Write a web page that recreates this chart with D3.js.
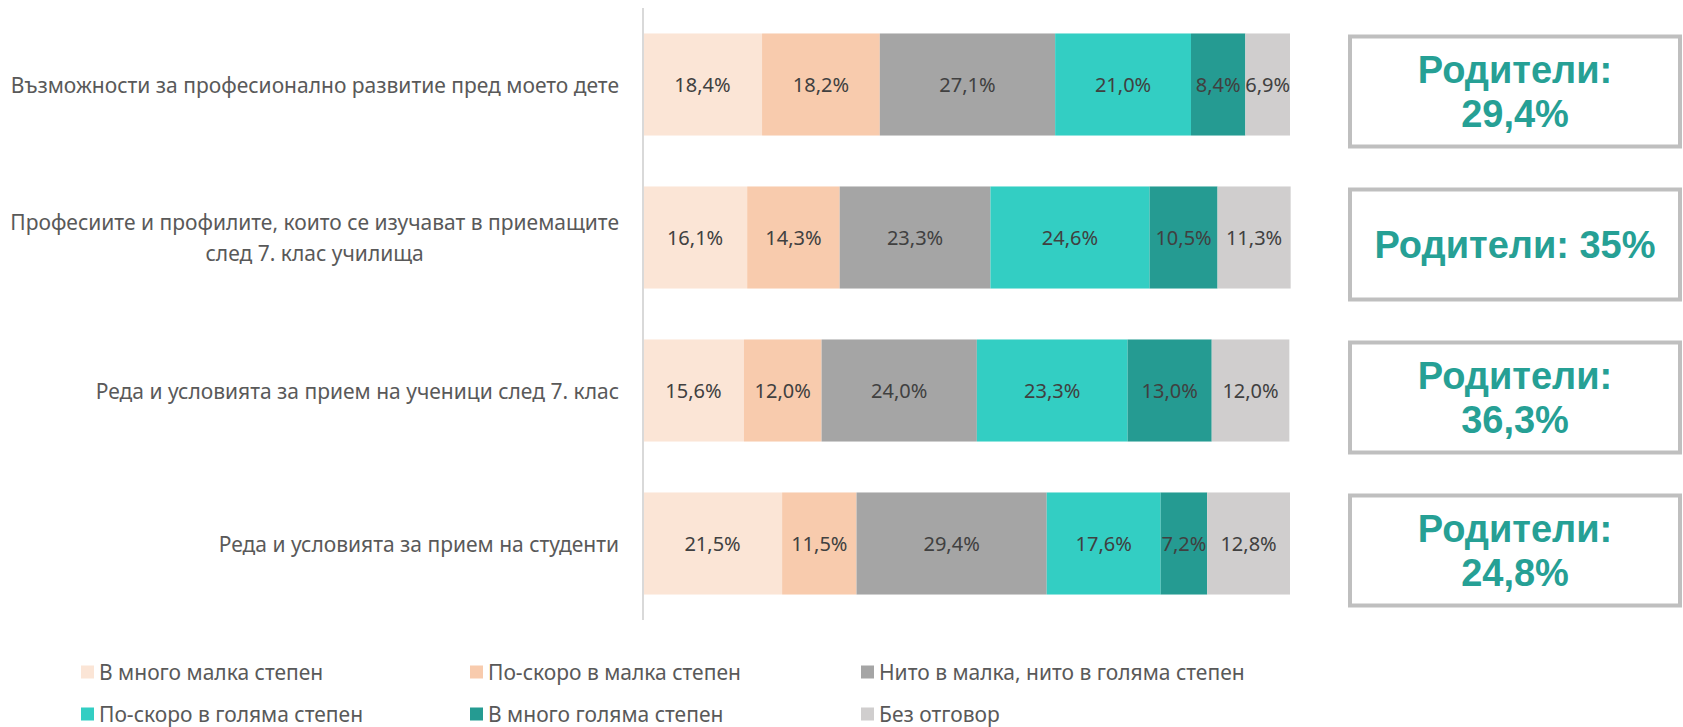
<!DOCTYPE html>
<html>
<head>
<meta charset="utf-8">
<script src="https://cdn.jsdelivr.net/npm/d3@7"></script>
<style>
  body { margin: 0; background: #fff; }
  svg { display: block; }
</style>
</head>
<body>
<div id="chart"></div>
<script>
// categories (top to bottom), "\n" marks a line break
const categories = [
  "Възможности за професионално развитие пред моето дете",
  "Професиите и профилите, които се изучават в приемащите\nслед 7. клас училища",
  "Реда и условията за прием на ученици след 7. клас",
  "Реда и условията за прием на студенти"
];

const seriesNames = [
  "В много малка степен",
  "По-скоро в малка степен",
  "Нито в малка, нито в голяма степен",
  "По-скоро в голяма степен",
  "В много голяма степен",
  "Без отговор"
];

const seriesColors = ["#fbe5d6", "#f8cbad", "#a5a5a5", "#33cec3", "#259b92", "#d0cece"];

// one array per series, one value per category
const veryLow  = [18.4, 16.1, 15.6, 21.5];
const ratherLow = [18.2, 14.3, 12.0, 11.5];
const neither  = [27.1, 23.3, 24.0, 29.4];
const ratherHigh = [21.0, 24.6, 23.3, 17.6];
const veryHigh = [8.4, 10.5, 13.0, 7.2];
const noAnswer = [6.9, 11.3, 12.0, 12.8];

// parents' share shown in the boxes on the right
const parentLabels = ["Родители:\n29,4%", "Родители: 35%", "Родители:\n36,3%", "Родители:\n24,8%"];

const WIDTH = 1683;
const HEIGHT = 727;

const seriesValues = [veryLow, ratherLow, neither, ratherHigh, veryHigh, noAnswer];
const tableData = categories.map((c, i) => {
  let row = { category: c };
  seriesNames.forEach((s, j) => { row[s] = seriesValues[j][i]; });
  return row;
});

const stacked = d3.stack().keys(seriesNames)(tableData);

const fmt = (v) => v.toFixed(1).replace(".", ",") + "%";

let svg = d3.select("#chart")
  .append("svg")
  .attr("width", WIDTH)
  .attr("height", HEIGHT);

let x = d3.scaleLinear().domain([0, 100]).range([643, 1290]);
let y = d3.scaleBand().domain(categories).range([8, 620]).paddingInner(0.333).paddingOuter(0.1665);
let color = d3.scaleOrdinal().domain(seriesNames).range(seriesColors);

//Bars
let layers = svg.append("g")
  .selectAll("g")
  .data(stacked)
  .enter()
  .append("g")
  .attr("fill", (d) => color(d.key));

layers.selectAll("rect")
  .data((d) => d)
  .enter()
  .append("rect")
  .attr("x", (d) => x(d[0]))
  .attr("y", (d) => y(d.data.category))
  .attr("width", (d) => x(d[1]) - x(d[0]))
  .attr("height", y.bandwidth());

//Value labels
layers.selectAll("text")
  .data((d) => d)
  .enter()
  .append("text")
  .attr("x", (d) => (x(d[0]) + x(d[1])) / 2)
  .attr("y", (d) => y(d.data.category) + y.bandwidth() / 2)
  .attr("text-anchor", "middle")
  .attr("dominant-baseline", "central")
  .style("font-family", "'Noto Sans', sans-serif")
  .style("font-size", "20px")
  .style("fill", "#404040")
  .text((d) => fmt(d[1] - d[0]));

//Vertical axis line
svg.append("line")
  .attr("x1", x(0)).attr("x2", x(0))
  .attr("y1", y.range()[0]).attr("y2", y.range()[1])
  .attr("stroke", "#d9d9d9")
  .attr("stroke-width", 2);

//Category labels
let lineH = 31;
svg.append("g")
  .selectAll("text")
  .data(categories)
  .enter()
  .append("text")
  .attr("text-anchor", "middle")
  .style("font-family", "'Noto Sans', sans-serif")
  .style("font-size", "21px")
  .style("fill", "#595959")
  .each(function (d) {
    let lines = d.split("\n");
    let t = d3.select(this);
    let cy = y(d) + y.bandwidth() / 2;
    // measure widest line to right-align the block
    let widths = lines.map((l) => {
      let tmp = t.append("tspan").text(l);
      let w = tmp.node().getComputedTextLength();
      tmp.remove();
      return w;
    });
    let maxW = d3.max(widths);
    let cx = 619 - maxW / 2;
    lines.forEach((l, i) => {
      t.append("tspan")
        .attr("x", cx)
        .attr("y", cy + (i - (lines.length - 1) / 2) * lineH)
        .attr("dominant-baseline", "central")
        .text(l);
    });
  });

//Parent boxes
let boxW = 330;
let boxH = 110;
let boxX = 1350;
let boxes = svg.append("g")
  .selectAll("g")
  .data(categories)
  .enter()
  .append("g");

boxes.append("rect")
  .attr("x", boxX)
  .attr("y", (d) => y(d) + y.bandwidth() / 2 + 7 - boxH / 2)
  .attr("width", boxW)
  .attr("height", boxH)
  .attr("fill", "#fff")
  .attr("stroke", "#bfbfbf")
  .attr("stroke-width", 4);

boxes.append("text")
  .attr("text-anchor", "middle")
  .style("font-family", "'Liberation Sans', Arial, sans-serif")
  .style("font-weight", "bold")
  .style("font-size", "38px")
  .style("fill", "#26a095")
  .each(function (d, i) {
    let lines = parentLabels[i].split("\n");
    let cy = y(d) + y.bandwidth() / 2 + 7;
    lines.forEach((l, k) => {
      d3.select(this).append("tspan")
        .attr("x", boxX + boxW / 2)
        .attr("y", cy + (k - (lines.length - 1) / 2) * 44)
        .attr("dominant-baseline", "central")
        .text(l);
    });
  });

//Legend
let legendCols = [81, 470, 861];
let legendRows = [672, 714];
let legend = svg.append("g")
  .selectAll("g")
  .data(seriesNames)
  .enter()
  .append("g")
  .attr("transform", (d, i) => "translate(" + legendCols[i % 3] + "," + legendRows[Math.floor(i / 3)] + ")");

legend.append("rect")
  .attr("x", 0)
  .attr("y", -6.5)
  .attr("width", 13)
  .attr("height", 13)
  .attr("fill", (d) => color(d));

legend.append("text")
  .attr("x", 18)
  .attr("y", 0)
  .attr("dominant-baseline", "central")
  .style("font-family", "'Noto Sans', sans-serif")
  .style("font-size", "21px")
  .style("fill", "#595959")
  .text((d) => d);
</script>
</body>
</html>
